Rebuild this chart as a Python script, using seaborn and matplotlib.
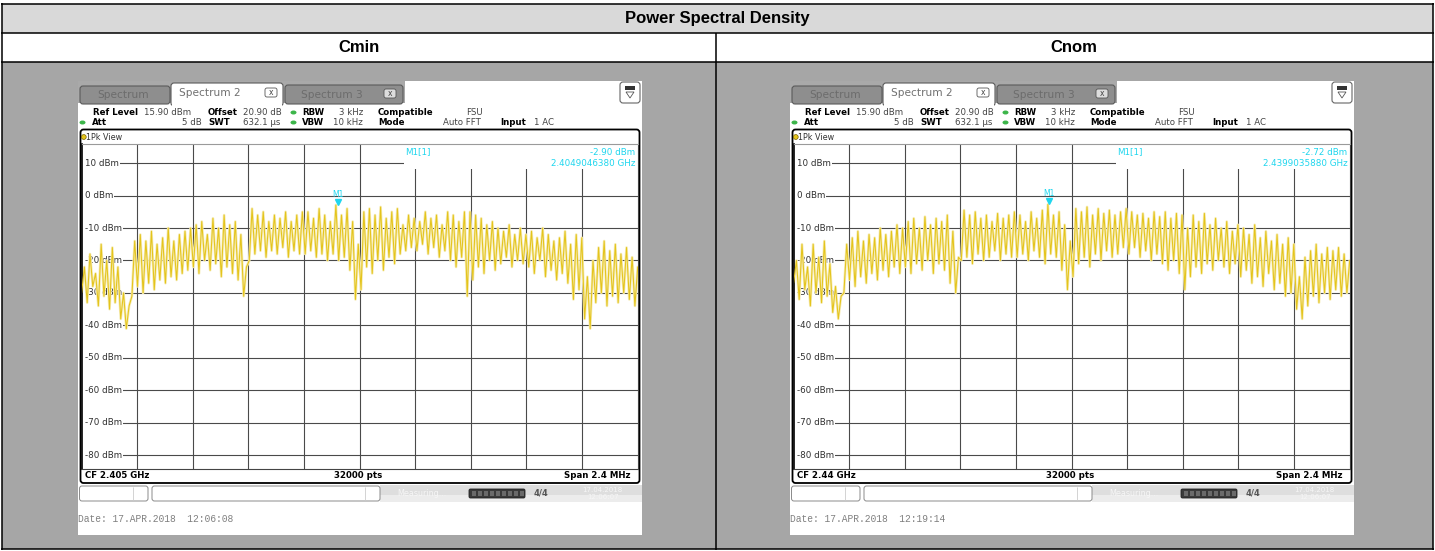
import numpy as np
import matplotlib
matplotlib.use("Agg")
import matplotlib.pyplot as plt
from matplotlib.patches import Rectangle, FancyBboxPatch, Circle, Ellipse, Polygon
from matplotlib.transforms import offset_copy, blended_transform_factory
import seaborn as sns

# ---------------- data ----------------
TITLE = "Power Spectral Density"
CONDITIONS = ["Cmin", "Cnom"]
CENTER_FREQ_GHZ = [2.405, 2.44]
CF_LABELS = ["CF 2.405 GHz", "CF 2.44 GHz"]
SPAN_MHZ = 2.4
SWEEP_POINTS = 32000
REF_LEVEL_DBM = 15.90
Y_TICKS_DBM = [10, 0, -10, -20, -30, -40, -50, -60, -70, -80]
MARKER_LEVEL_DBM = [-2.90, -2.72]
MARKER_FREQ_GHZ = [2.4049046380, 2.4399035880]
DATES = ["Date: 17.APR.2018  12:06:08", "Date: 17.APR.2018  12:19:14"]

TRACE_CMIN = [
    -30, -22, -33, -18, -28, -24, -34, -15, -31, -20, -35, -16, -33, -22, -38, -30, -41, -34, -31, -14,
    -28, -12, -30, -14, -27, -11, -29, -15, -26, -13, -27, -10, -25, -14, -26, -12, -24, -11, -23, -10,
    -22, -9, -24, -8, -20, -12, -23, -7, -21, -10, -25, -6, -22, -9, -24, -8, -26, -12, -31, -22,
    -20, -4, -18, -6, -17, -5, -19, -8, -17, -6, -18, -7, -16, -5, -19, -8, -17, -6, -18, -5,
    -18, -5, -17, -7, -19, -4, -18, -6, -20, -8, -18, -2.9, -20, -6, -19, -4, -23, -8, -32, -15,
    -29, -5, -22, -4, -24, -6, -20, -3.5, -23, -7, -19, -5, -21, -4, -18, -9, -17, -6, -16, -7,
    -17, -8, -15, -5, -18, -7, -16, -6, -19, -9, -17, -5, -20, -6, -22, -8, -19, -5, -31, -5,
    -26, -6, -22, -7, -24, -9, -20, -8, -23, -10, -21, -11, -19, -9, -22, -12, -20, -10, -21, -12,
    -22, -11, -24, -13, -20, -10, -25, -12, -23, -14, -26, -13, -24, -11, -27, -15, -32, -12, -29, -13,
    -38, -25, -41, -20, -33, -16, -30, -14, -34, -17, -31, -15, -33, -18, -30, -16, -32, -19, -34, -22,
]
TRACE_CNOM = [
    -27, -20, -32, -15, -29, -22, -34, -15, -30, -19, -33, -14, -31, -21, -36, -28, -38, -31, -30, -15,
    -26, -13, -28, -11, -25, -14, -27, -12, -24, -13, -26, -10, -23, -12, -25, -11, -22, -9, -24, -10,
    -22, -8, -24, -7, -21, -10, -23, -6.5, -20, -9, -24, -7, -21, -8, -23, -6, -27, -11, -30, -19,
    -20, -4.5, -19, -6, -21, -5, -18, -7, -20, -6, -19, -8, -17, -5.5, -20, -7, -18, -6, -19, -5,
    -19, -6, -18, -8, -20, -5, -17, -7, -19, -4.5, -21, -2.72, -18, -6, -19, -5, -23, -9, -29, -14,
    -25, -4, -21, -5, -19, -3.5, -22, -6, -18, -4, -20, -5.5, -17, -4.5, -19, -6, -18, -5, -16, -4,
    -18, -5, -16, -6, -19, -5.5, -17, -7, -20, -5, -18, -6.5, -21, -5, -23, -7, -20, -5.5, -24, -6,
    -29, -10, -25, -6, -22, -8, -24, -5.5, -21, -9, -23, -7, -20, -10, -22, -8, -24, -11, -21, -9,
    -25, -10, -23, -12, -27, -9, -25, -13, -28, -11, -24, -14, -29, -12, -27, -15, -31, -13, -30, -15,
    -35, -25, -38, -19, -34, -17, -31, -15, -33, -18, -30, -16, -32, -17, -29, -16, -31, -18, -30, -20,
]
TRACES = [TRACE_CMIN, TRACE_CNOM]

# ---------------- style ----------------
sns.set_theme(style="white")
plt.rcParams["font.family"] = ["DejaVu Sans"]

W, H = 1435, 551
fig = plt.figure(figsize=(W / 100, H / 100), dpi=100)
bg = fig.add_axes([0, 0, 1, 1])
bg.set_xlim(0, W)
bg.set_ylim(H, 0)
bg.axis("off")


def px(x0, y0, x1, y1):
    return [x0 / W, 1 - y1 / H, (x1 - x0) / W, (y1 - y0) / H]


def rect(x0, y0, x1, y1, fc, ec="none", lw=0.0, z=1):
    bg.add_patch(Rectangle((x0, y0), x1 - x0, y1 - y0, facecolor=fc, edgecolor=ec, linewidth=lw, zorder=z))


def rrect(x0, y0, x1, y1, fc, ec, lw, r=3, z=2):
    bg.add_patch(FancyBboxPatch((x0, y0), x1 - x0, y1 - y0,
                                boxstyle=f"round,pad=0,rounding_size={r}",
                                facecolor=fc, edgecolor=ec, linewidth=lw, zorder=z))


def line(xs, ys, c="black", lw=1.1, z=6):
    bg.plot(xs, ys, color=c, lw=lw, zorder=z, solid_capstyle="butt")


def txt(x, y, s, size=6.2, bold=False, color="black", ha="left", family=None, z=7, va="center"):
    kw = {}
    if family:
        kw["family"] = family
    bg.text(x, y, s, fontsize=size, fontweight="bold" if bold else "normal",
            color=color, ha=ha, va=va, zorder=z, **kw)


# ---------------- table ----------------
rect(2, 4, 1433, 33, "#d9d9d9")
rect(2, 33, 1433, 62, "white")
rect(2, 62, 1433, 549, "#a6a6a6")
for yy in (3.5, 32.7, 61.7, 548.7):
    line([1, 1434], [yy, yy])
for xx in (1.6, 1432.9):
    line([xx, xx], [3, 549.5])
line([716, 716], [32.7, 549.5])
txt(717, 18.5, TITLE, size=12, bold=True, ha="center", family="Liberation Sans")
txt(359, 47.5, CONDITIONS[0], size=12, bold=True, ha="center", family="Liberation Sans")
txt(1074, 47.5, CONDITIONS[1], size=12, bold=True, ha="center", family="Liberation Sans")

CYAN = "#1fd6ee"
YELLOW = "#e4c41c"
YELLOW_LIGHT = "#f6ecb4"
GREEN = "#3cb54a"


def draw_screen(k, dx):
    # screenshot background
    rect(78 + dx, 81, 642 + dx, 535, "white", z=1.5)
    rect(78 + dx, 81, 405 + dx, 103, "#a9a9a9", z=1.6)
    # tabs
    rrect(80 + dx, 86, 170 + dx, 104, "#8e8e8e", "#5a5a5a", 0.8, r=3, z=2)
    txt(123 + dx, 94.5, "Spectrum", size=7.6, color="#6c6c6c", ha="center")
    rrect(285 + dx, 85, 403 + dx, 104, "#8e8e8e", "#5a5a5a", 0.8, r=3, z=2)
    txt(332 + dx, 94.5, "Spectrum 3", size=7.6, color="#6c6c6c", ha="center")
    rrect(384 + dx, 89, 396 + dx, 98, "#dddddd", "#555555", 0.6, r=2, z=3)
    txt(390 + dx, 93.3, "x", size=5.5, color="#444444", ha="center", z=8)
    rrect(171 + dx, 83, 283 + dx, 106, "white", "#5a5a5a", 0.8, r=3, z=3)
    rect(171.6 + dx, 101, 282.4 + dx, 107, "white", z=3.5)
    txt(210 + dx, 93.5, "Spectrum 2", size=7.6, color="#707070", ha="center")
    rrect(265 + dx, 88, 277 + dx, 97, "white", "#555555", 0.6, r=2, z=4)
    txt(271 + dx, 92.3, "x", size=5.5, color="#444444", ha="center", z=8)
    # icon
    rrect(620 + dx, 82, 640 + dx, 103, "white", "#666666", 0.8, r=3, z=3)
    rect(625 + dx, 86, 635 + dx, 90, "#333333", z=4)
    bg.add_patch(Polygon([[626 + dx, 92], [634 + dx, 92], [630 + dx, 98]], closed=True,
                         facecolor="white", edgecolor="#555555", lw=0.6, zorder=4))

    # header lines
    r1, r2 = 112.5, 122.5
    txt(93 + dx, r1, "Ref Level", bold=True)
    txt(144 + dx, r1, f"{REF_LEVEL_DBM:.2f} dBm", color="#444444")
    txt(208 + dx, r1, "Offset", bold=True)
    txt(243 + dx, r1, "20.90 dB", color="#444444")
    txt(302 + dx, r1, "RBW", bold=True)
    txt(363 + dx, r1, "3 kHz", color="#444444", ha="right")
    txt(378 + dx, r1, "Compatible", bold=True)
    txt(466 + dx, r1, "FSU", color="#444444")
    txt(92 + dx, r2, "Att", bold=True)
    txt(202 + dx, r2, "5 dB", color="#444444", ha="right")
    txt(208 + dx, r2, "SWT", bold=True)
    txt(243 + dx, r2, "632.1 µs", color="#444444")
    txt(302 + dx, r2, "VBW", bold=True)
    txt(333 + dx, r2, "10 kHz", color="#444444")
    txt(378 + dx, r2, "Mode", bold=True)
    txt(443 + dx, r2, "Auto FFT", color="#444444")
    txt(500 + dx, r2, "Input", bold=True)
    txt(534 + dx, r2, "1 AC", color="#444444")
    for (ex, ey) in ((293.5, r1), (82.5, r2), (293.5, r2)):
        bg.add_patch(Ellipse((ex + dx, ey), 6, 4, facecolor=GREEN, edgecolor="none", zorder=7))

    # diagram frame
    rrect(80.5 + dx, 129.5, 639.5 + dx, 483, "white", "black", 1.3, r=3, z=2)
    bg.add_patch(Circle((83.8 + dx, 137), 2.4, facecolor=YELLOW, edgecolor="#7a6400", lw=0.5, zorder=7))
    txt(86.5 + dx, 137, "1Pk View", size=5.8, color="#333333")
    txt(85 + dx, 476, CF_LABELS[k], size=6.2, bold=True)
    txt(358 + dx, 476, f"{SWEEP_POINTS} pts", size=6.2, bold=True, ha="center")
    txt(631 + dx, 476, f"Span {SPAN_MHZ:g} MHz", size=6.2, bold=True, ha="right")

    # status bar
    rect(380 + dx, 485, 642 + dx, 502, "#dedede", z=2)
    rect(380 + dx, 495, 642 + dx, 502, "#ececec", z=2.1)
    rrect(79.5 + dx, 486, 148 + dx, 501, "white", "#8a8a8a", 0.7, r=2.5, z=3)
    line([133 + dx, 133 + dx], [487, 500], c="#cccccc", lw=0.6, z=4)
    rrect(152 + dx, 486, 380 + dx, 501, "white", "#8a8a8a", 0.7, r=2.5, z=3)
    line([365 + dx, 365 + dx], [487, 500], c="#cccccc", lw=0.6, z=4)
    txt(397 + dx, 493.5, "Measuring...", size=5.8, color="#f6f6f6")
    rrect(469 + dx, 489, 525 + dx, 498, "#3a3a3a", "#222222", 0.6, r=1.5, z=3)
    for sx in range(472, 522, 6):
        rect(sx + dx, 491, sx + 4 + dx, 496, "#6a6a6a", z=4)
    txt(541 + dx, 493.5, "4/4", size=6, bold=True, color="#555555", ha="center")
    txt(582 + dx, 489.5, "17.04.2018", size=5, color="#f6f6f6")
    txt(587 + dx, 497, "12:06:07", size=5, color="#f6f6f6")

    # date
    txt(78 + dx, 518.5, DATES[k], size=6.9, color="#808080", family="Liberation Mono")

    # ---------- diagram axes ----------
    ax = fig.add_axes(px(81.6 + dx, 144, 637.7 + dx, 468.5))
    ax.set_facecolor("white")
    half = SPAN_MHZ / 2
    ax.set_xlim(-half, half)
    ax.set_ylim(REF_LEVEL_DBM - 100, REF_LEVEL_DBM)
    ax.set_xticks([-half + i * SPAN_MHZ / 10 for i in range(1, 10)])
    ax.set_yticks(Y_TICKS_DBM)
    ax.set_axisbelow(True)
    ax.grid(True, color="#4a4a4a", lw=0.8)
    ax.tick_params(length=0, labelbottom=False, labelleft=False)
    for side in ("left", "right", "bottom", "top"):
        ax.spines[side].set_visible(True)
    ax.spines["left"].set_color("black")
    ax.spines["left"].set_linewidth(1.2)
    ax.spines["top"].set_color("#9a9a9a")
    ax.spines["top"].set_linewidth(0.8)
    ax.spines["right"].set_color("#444444")
    ax.spines["right"].set_linewidth(0.8)
    ax.spines["bottom"].set_color("#444444")
    ax.spines["bottom"].set_linewidth(0.8)

    # white strip left of labels (hides grid start)
    ax.add_patch(Rectangle((0, 0), 0.0075, 1, transform=ax.transAxes,
                           facecolor="white", edgecolor="none", zorder=0.9))
    bt = blended_transform_factory(ax.transAxes, ax.transData)
    for v in Y_TICKS_DBM:
        ax.text(0.006, v, f"{v} dBm", transform=bt, ha="left", va="center", fontsize=6.3,
                color="#303030", zorder=1,
                bbox=dict(facecolor="white", edgecolor="none", pad=0.8))

    # marker info box
    ax.add_patch(Rectangle((0.58, 0.923), 0.425, 0.08, transform=ax.transAxes,
                           facecolor="white", edgecolor="none", zorder=2))
    ax.text(0.58 + 0.002, 0.975, "M1[1]", transform=ax.transAxes, fontsize=6.3, color=CYAN,
            ha="left", va="center", zorder=5)
    ax.text(0.996, 0.975, f"{MARKER_LEVEL_DBM[k]:.2f} dBm", transform=ax.transAxes, fontsize=6.3,
            color=CYAN, ha="right", va="center", zorder=5)
    ax.text(0.996, 0.94, f"{MARKER_FREQ_GHZ[k]:.10f} GHz", transform=ax.transAxes, fontsize=6.3,
            color=CYAN, ha="right", va="center", zorder=5)

    # trace (light halo + darker core, like the analyzer's min/max rendering)
    n = len(TRACES[k])
    freq = np.linspace(-half, half, n)
    sns.lineplot(x=freq, y=TRACES[k], ax=ax, color=YELLOW_LIGHT, linewidth=1.9, zorder=2.5,
                 estimator=None, sort=False, legend=False)
    sns.lineplot(x=freq, y=TRACES[k], ax=ax, color=YELLOW, linewidth=0.75, zorder=3,
                 estimator=None, sort=False, legend=False)

    # marker
    mx = (MARKER_FREQ_GHZ[k] - CENTER_FREQ_GHZ[k]) * 1000
    my = MARKER_LEVEL_DBM[k]
    tr_m = offset_copy(ax.transData, fig=fig, x=0, y=3.5, units="dots")
    ax.plot([mx], [my], marker="v", markersize=5, color=CYAN, transform=tr_m, zorder=6, linestyle="none")
    tr_t = offset_copy(ax.transData, fig=fig, x=0, y=10.5, units="dots")
    ax.text(mx, my, "M1", transform=tr_t, fontsize=5.5, color=CYAN, ha="center", va="center", zorder=6)
    ax.set_xlabel("")
    ax.set_ylabel("")


draw_screen(0, 0)
draw_screen(1, 712)

fig.savefig("out.png", dpi=100)
